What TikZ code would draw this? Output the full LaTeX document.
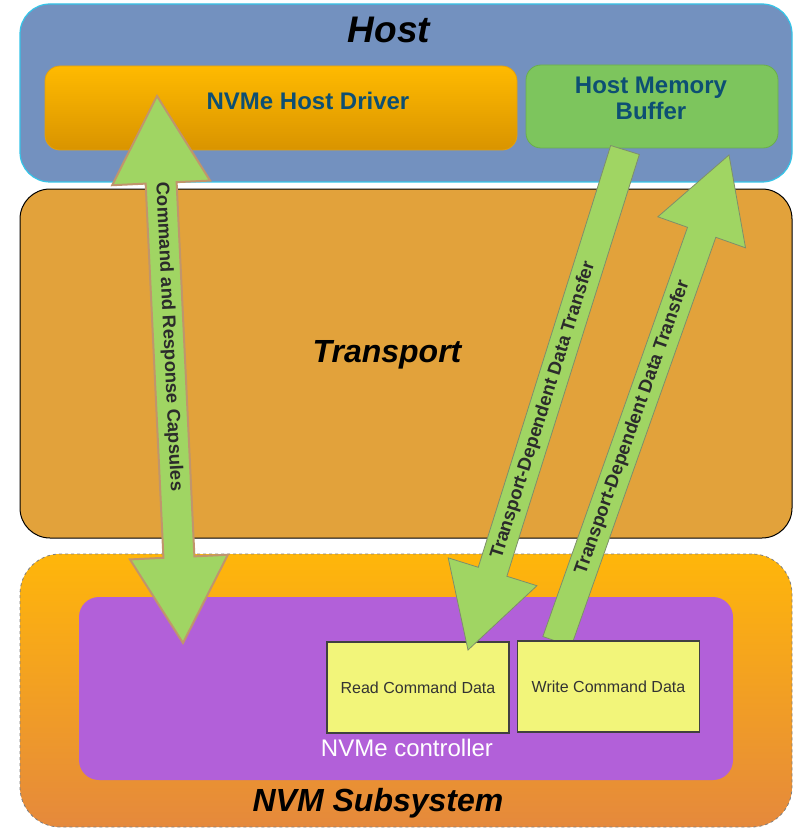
\documentclass[tikz,border=0pt]{standalone}
\usepackage{fontspec}
\setmainfont{Liberation Sans}
\usetikzlibrary{calc}

\definecolor{hostblue}{HTML}{7391BF}
\definecolor{hostedge}{HTML}{35C4E8}
\definecolor{transp}{HTML}{E2A23B}
\definecolor{subtop}{HTML}{FFB60A}
\definecolor{subbot}{HTML}{E5893C}
\definecolor{drvtop}{HTML}{FFBA00}
\definecolor{drvbot}{HTML}{D99400}
\definecolor{drvedge}{HTML}{E3A010}
\definecolor{hmbgreen}{HTML}{7DC55D}
\definecolor{hmbedge}{HTML}{6AAE4C}
\definecolor{labelblue}{HTML}{0D4F73}
\definecolor{ctrlpurple}{HTML}{B260D9}
\definecolor{datayellow}{HTML}{F2F57A}
\definecolor{arrowgreen}{HTML}{A0D563}
\definecolor{capedge}{HTML}{C0956C}
\definecolor{xferedge}{HTML}{7E8F6A}
\definecolor{arrowtextc}{HTML}{2B2B2B}

% one-headed fat arrow: tail, tip, head length, head half width, shaft half width, style
\newcommand{\fatarrow}[6]{%
  \coordinate (#1-#2-h) at ($(#2)!#3!(#1)$);
  \path[#6] ($(#1)!#5!90:(#2)$) -- ($(#1-#2-h)!#5!-90:(#1)$) -- ($(#1-#2-h)!#4!-90:(#1)$)
    -- (#2) -- ($(#1-#2-h)!#4!90:(#1)$) -- ($(#1-#2-h)!#5!90:(#1)$) -- ($(#1)!#5!-90:(#2)$) -- cycle;}

\tikzset{
  layer/.style={inner sep=0pt, rounded corners=30pt},
  title/.style={font=\bfseries\itshape\fontsize{32}{36}\selectfont, inner sep=0pt},
  boxlabel/.style={font=\bfseries\fontsize{24}{26}\selectfont, text=labelblue, inner sep=0pt, align=center},
  databox/.style={draw=black!75, line width=1.1pt, fill=datayellow, inner sep=0pt,
    minimum width=182pt, minimum height=91pt, font=\fontsize{16}{19}\selectfont, text=black!80},
  arrowtext/.style={font=\bfseries\fontsize{18.5}{20}\selectfont, text=arrowtextc, inner sep=0pt},
  caparrow/.style={fill=arrowgreen, draw=capedge, line width=2pt},
  xferarrow/.style={fill=arrowgreen, draw=xferedge, line width=0.8pt},
}

\begin{document}
\begin{tikzpicture}[x=1pt, y=-1pt]
\useasboundingbox (0,0) rectangle (798,829);
\fill[white] (0,0) rectangle (798,829);

% Host layer
\node[layer, fill=hostblue, draw=hostedge, line width=1.2pt,
  minimum width=772pt, minimum height=178pt] (host) at (406,93) {};
\node[title, font=\bfseries\itshape\fontsize{37}{40}\selectfont] (hostlbl) at (389,30) {Host};
\node[inner sep=0pt, rounded corners=15pt, top color=drvtop, bottom color=drvbot,
  draw=drvedge, line width=0.8pt, minimum width=472pt, minimum height=84pt] (drv) at (281,108) {};
\node[boxlabel] (drvlbl) at (308,101) {NVMe Host Driver};
\node[inner sep=0pt, rounded corners=15pt, fill=hmbgreen, draw=hmbedge, line width=0.8pt,
  minimum width=252pt, minimum height=83pt] (hmb) at (652,106.5) {};
\node[boxlabel] (hmblbl) at (651,98.5) {Host Memory\\Buffer};

% Transport layer
\node[layer, fill=transp, draw=black, line width=1pt,
  minimum width=772pt, minimum height=349pt] (transport) at (406,363.5) {};
\node[title] (transportlbl) at (387,355) {Transport};

% NVM subsystem layer
\node[layer, rounded corners=40pt, top color=subtop, bottom color=subbot,
  draw=black!50, dashed, line width=0.8pt, minimum width=772pt, minimum height=273pt] (subsys) at (406,690.5) {};
\node[title] (subsyslbl) at (378,803) {NVM Subsystem};
\node[inner sep=0pt, rounded corners=20pt, fill=ctrlpurple,
  minimum width=654pt, minimum height=183pt] (ctrl) at (406,688.5) {};
\node[inner sep=0pt, text=white, font=\fontsize{24}{28}\selectfont] (ctrllbl) at (407,748) {NVMe controller};

% data transfer from the controller up to the host memory buffer
\coordinate (wrtail) at (557,641.5);
\coordinate (wrtip) at (729,155);
\fatarrow{wrtail}{wrtip}{82pt}{46.5pt}{15pt}{xferarrow}
\path (wrtail) -- (wrtip) node[pos=0.44, sloped, arrowtext] (wrlbl) {Transport-Dependent Data Transfer};

\node[databox] (rd) at (418,687.5) {Read Command Data};
\node[databox] (wr) at (608.5,686.5) {Write Command Data};

% data transfer from the host memory buffer down to the controller
\coordinate (rdtail) at (625,150);
\coordinate (rdtip) at (468,650);
\fatarrow{rdtail}{rdtip}{82pt}{46.5pt}{15pt}{xferarrow}
\path (rdtail) -- (rdtip) node[pos=0.52, sloped, arrowtext] (rdlbl) {Transport-Dependent Data Transfer};

% command and response capsules between driver and controller
\coordinate (capA) at (157,96);
\coordinate (capB) at (183,643);
\coordinate (capha) at ($(capA)!87pt!(capB)$);
\coordinate (caphb) at ($(capB)!86pt!(capA)$);
\path[caparrow] (capA) -- ($(capha)!49pt!90:(capB)$) -- ($(capha)!15.5pt!90:(capB)$)
  -- ($(caphb)!15.5pt!-90:(capA)$) -- ($(caphb)!49pt!-90:(capA)$) -- (capB)
  -- ($(caphb)!49pt!90:(capA)$) -- ($(caphb)!15.5pt!90:(capA)$)
  -- ($(capha)!15.5pt!-90:(capB)$) -- ($(capha)!49pt!-90:(capB)$) -- cycle;
\path (capA) -- (capB) node[pos=0.44, sloped, arrowtext] (caplbl) {Command and Response Capsules};
\end{tikzpicture}
\end{document}
